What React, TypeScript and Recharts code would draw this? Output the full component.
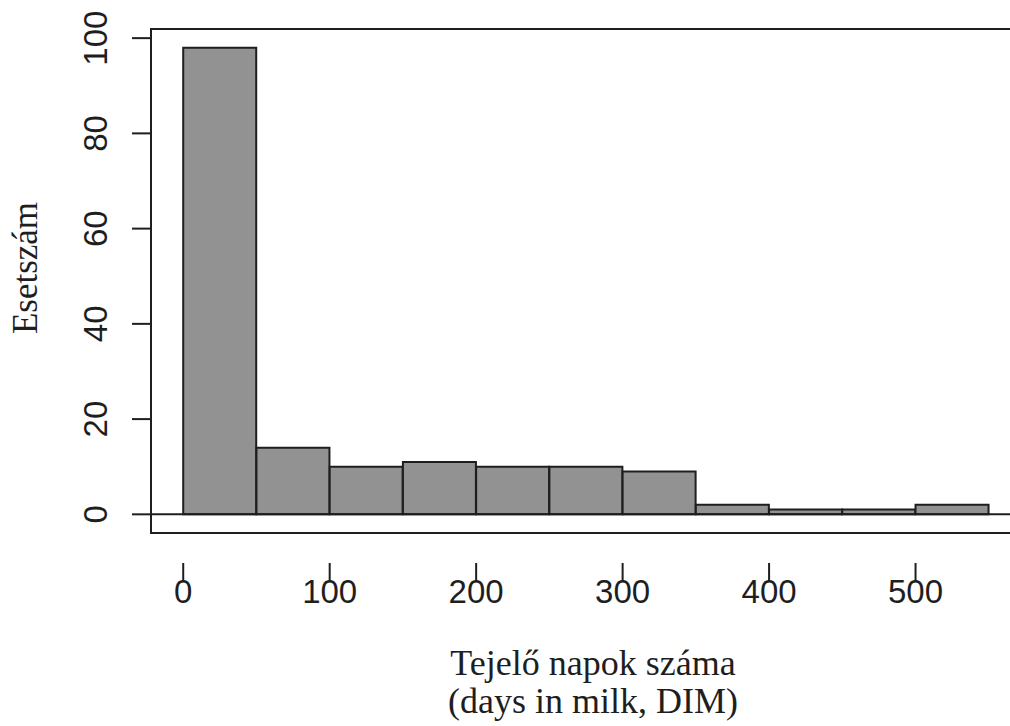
import { ComposedChart, Bar, XAxis, YAxis, ReferenceLine, ReferenceArea } from 'recharts';

// hisztogram: 50 napos osztályok
const binStarts = [0, 50, 100, 150, 200, 250, 300, 350, 400, 450, 500];
const binWidth = 50;
const counts = [98, 14, 10, 11, 10, 10, 9, 2, 1, 1, 2];
const xTicks = [0, 100, 200, 300, 400, 500];
const yTicks = [0, 20, 40, 60, 80, 100];

const xTitle = 'Tejelő napok száma';
const xSubTitle = '(days in milk, DIM)';
const yTitle = 'Esetszám';

const data = binStarts.map((start, i) => ({
  bin: `${start}-${start + binWidth}`,
  mid: start + binWidth / 2,
  count: counts[i],
}));

// R-style 4% axis extension
const xMin = binStarts[0];
const xMax = binStarts[binStarts.length - 1] + binWidth;
const xExt = (xMax - xMin) * 0.04;
const xDomain: [number, number] = [xMin - xExt, xMax + xExt];
const yMaxData = Math.max(...counts);
const yExt = yMaxData * 0.04;
const yDomain: [number, number] = [-yExt, yMaxData + yExt];

const CHART_W = 1030;
const CHART_H = 726;
const LEFT = 151;
const TOP = 29;
const RIGHT = 9;
const BOTTOM = 193;
const plotW = CHART_W - LEFT - RIGHT;
const pad = (xExt / (xDomain[1] - xDomain[0])) * plotW;

const INK = '#1e1e1e';
const sans = '"Liberation Sans", Arial, sans-serif';
const serif = '"Liberation Serif", "Times New Roman", serif';

const XTick = ({ x, payload }: any) => (
  <text x={x} y={603} textAnchor="middle" fontFamily={sans} fontSize={33} fill={INK}>
    {payload.value}
  </text>
);

const YTick = ({ y, payload }: any) => (
  <text
    transform={`translate(107, ${y}) rotate(-90)`}
    textAnchor="middle"
    fontFamily={sans}
    fontSize={33}
    fill={INK}
  >
    {payload.value}
  </text>
);

export default function App() {
  return (
    <div style={{ position: 'absolute', left: 0, top: 0, width: 1010, height: 726, overflow: 'hidden', background: '#fff' }}>
      <ComposedChart
        width={CHART_W}
        height={CHART_H}
        data={data}
        barCategoryGap={0}
        barGap={0}
        margin={{ top: TOP, right: RIGHT, bottom: 0, left: 0 }}
      >
        <XAxis xAxisId="cat" dataKey="bin" type="category" hide padding={{ left: pad, right: pad }} />
        <XAxis
          xAxisId="num"
          dataKey="mid"
          type="number"
          domain={xDomain}
          ticks={xTicks}
          height={BOTTOM}
          axisLine={false}
          tickSize={19}
          tickLine={{ stroke: INK, strokeWidth: 2 }}
          tick={<XTick />}
          interval={0}
        />
        <YAxis
          type="number"
          domain={yDomain}
          ticks={yTicks}
          width={LEFT}
          axisLine={false}
          tickSize={19}
          tickLine={{ stroke: INK, strokeWidth: 2 }}
          tick={<YTick />}
          interval={0}
        />
        <Bar
          xAxisId="cat"
          dataKey="count"
          fill="#929292"
          stroke={INK}
          strokeWidth={2}
          isAnimationActive={false}
        />
        <ReferenceLine xAxisId="num" y={0} stroke={INK} strokeWidth={2} />
        <ReferenceArea
          xAxisId="num"
          x1={xDomain[0]}
          x2={xDomain[1]}
          y1={yDomain[0]}
          y2={yDomain[1]}
          fill="none"
          stroke={INK}
          strokeWidth={2}
          ifOverflow="visible"
        />
      </ComposedChart>
      <div style={{ position: 'absolute', left: 0, top: 0, pointerEvents: 'none' }}>
        <svg width={1010} height={726}>
          <text
            transform="translate(37, 268) rotate(-90)"
            textAnchor="middle"
            fontFamily={serif}
            fontSize={35}
            fill={INK}
          >
            {yTitle}
          </text>
          <text x={593} y={675} textAnchor="middle" fontFamily={serif} fontSize={36} fill={INK}>
            {xTitle}
          </text>
          <text x={593} y={713} textAnchor="middle" fontFamily={serif} fontSize={36} fill={INK}>
            {xSubTitle}
          </text>
        </svg>
      </div>
    </div>
  );
}
